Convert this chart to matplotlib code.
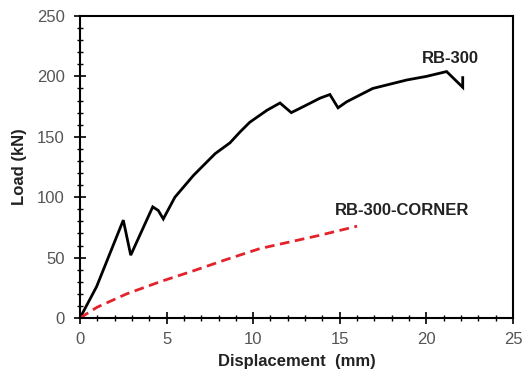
import matplotlib
matplotlib.use("Agg")
import matplotlib.pyplot as plt
from matplotlib.ticker import MultipleLocator

plt.rcParams['font.family'] = ['Liberation Sans', 'DejaVu Sans']

# load-displacement curves
rb300_disp = [0.0, 0.96, 2.5, 2.93, 4.2, 4.52, 4.81, 5.48, 6.55, 7.8, 8.66, 9.24,
              9.8, 10.8, 11.55, 12.2, 12.9, 13.86, 14.43, 14.9, 15.4, 16.9,
              18.86, 20.0, 21.17, 22.1, 22.1]
rb300_load = [0, 26, 81, 52, 92, 89, 82, 100, 118, 136, 145, 154,
              162, 172, 178, 170, 175, 182, 185, 174, 179, 190,
              197, 200, 204, 191, 199]

corner_disp = [0.0, 1.0, 2.7, 4.62, 6.54, 8.47, 10.4, 13.86, 16.0]
corner_load = [0, 9, 20, 30, 39, 48.5, 57.5, 68.5, 76]

fig = plt.figure(figsize=(5.28, 3.81), dpi=100)
ax = fig.add_axes([0.1515, 0.1654, 0.82, 0.7926])

ax.plot(rb300_disp, rb300_load, color='black', lw=2.0, solid_joinstyle='miter')
ax.plot(corner_disp, corner_load, color='#e3222b', lw=2.0, dashes=(3.5, 2))

ax.text(21.4, 215, 'RB-300', fontsize=12, fontweight='bold', ha='center', va='center',
        color='#222222')
ax.text(18.6, 89, 'RB-300-CORNER', fontsize=12, fontweight='bold', ha='center',
        va='center', color='#222222')

ax.set_xlim(0, 25)
ax.set_ylim(0, 250)
ax.xaxis.set_major_locator(MultipleLocator(5))
ax.xaxis.set_minor_locator(MultipleLocator(1))
ax.yaxis.set_major_locator(MultipleLocator(50))
ax.yaxis.set_minor_locator(MultipleLocator(10))
ax.tick_params(which='major', direction='inout', length=8, width=1.2,
               labelsize=12, labelcolor='#555555')
ax.tick_params(axis='x', which='major', pad=6)
ax.tick_params(axis='y', which='major', pad=7)
ax.tick_params(which='minor', direction='inout', length=4, width=1.0)
for s in ax.spines.values():
    s.set_linewidth(1.5)

ax.set_xlabel('Displacement  (mm)', fontsize=12, fontweight='bold', color='#222222',
              labelpad=5)
ax.set_ylabel('Load (kN)', fontsize=12, fontweight='bold', color='#222222', labelpad=7)

fig.savefig('out.png', dpi=100)
